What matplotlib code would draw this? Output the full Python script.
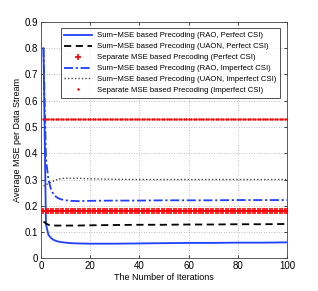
import numpy as np
import matplotlib
matplotlib.use("Agg")
import matplotlib.pyplot as plt

plt.rcParams['font.family'] = ['Liberation Sans', 'DejaVu Sans']

it_curve = [1, 2, 3, 4, 5, 6, 7, 8, 10, 12, 15, 20, 30, 40, 50, 60, 70, 80, 90, 100]

# Sum-MSE, RAO, perfect CSI
rao_perfect = [0.80, 0.13, 0.090, 0.078, 0.071, 0.067, 0.064, 0.062, 0.060, 0.058, 0.057,
               0.056, 0.056, 0.057, 0.058, 0.059, 0.059, 0.060, 0.060, 0.061]
# Sum-MSE, UAON, perfect CSI
uaon_perfect = [0.140, 0.133, 0.128, 0.125, 0.125, 0.125, 0.125, 0.125, 0.125, 0.125, 0.125,
                0.126, 0.127, 0.128, 0.128, 0.129, 0.129, 0.130, 0.130, 0.131]
# Sum-MSE, RAO, imperfect CSI
rao_imperfect = [0.80, 0.38, 0.30, 0.265, 0.245, 0.235, 0.229, 0.225, 0.221, 0.219, 0.218,
                 0.219, 0.220, 0.220, 0.221, 0.221, 0.221, 0.222, 0.222, 0.222]
# Sum-MSE, UAON, imperfect CSI
uaon_imperfect = [0.275, 0.280, 0.285, 0.290, 0.294, 0.298, 0.301, 0.303, 0.305, 0.305, 0.305,
                  0.303, 0.301, 0.300, 0.300, 0.300, 0.300, 0.300, 0.300, 0.300]

# separate MSE based precoding (flat over all iterations)
it_all = np.arange(1, 101)
sep_perfect = [0.179] * 100
sep_imperfect = [0.53] * 100

labels = ['Sum\u2212MSE based Precoding (RAO, Perfect CSI)',
          'Sum\u2212MSE based Precoding (UAON, Perfect CSI)',
          'Separate MSE based Precoding (Perfect CSI)',
          'Sum\u2212MSE based Precoding (RAO, Imperfect CSI)',
          'Sum\u2212MSE based Precoding (UAON, Imperfect CSI)',
          'Separate MSE based Precoding (Imperfect CSI)']

fig = plt.figure(figsize=(3.18, 2.91), dpi=100)
ax = fig.add_axes([0.129, 0.112, 0.774, 0.813])

ax.plot(it_curve, rao_perfect, color='#1f3fff', lw=1.3, label=labels[0])
ax.plot(it_curve, uaon_perfect, color='black', lw=1.3, ls=(0, (4, 2.5)), label=labels[1])
ax.plot(it_all, sep_perfect, ls='none', marker='+', ms=4, mew=1.2, color='red', label=labels[2])
ax.plot(it_curve, rao_imperfect, color='#1f3fff', lw=1.3, ls=(0, (5, 1.5, 1.2, 1.5)), label=labels[3])
ax.plot(it_curve, uaon_imperfect, color='#444444', lw=1.0, ls=(0, (1, 1.5)), label=labels[4])
ax.plot(it_all, sep_imperfect, ls='none', marker='.', ms=1.6, color='red', label=labels[5])

ax.set_xlim(0, 100)
ax.set_ylim(0, 0.9)
ax.set_xticks([0, 20, 40, 60, 80, 100])
ax.set_yticks(np.arange(0, 0.91, 0.1))
ax.set_yticklabels(['0', '0.1', '0.2', '0.3', '0.4', '0.5', '0.6', '0.7', '0.8', '0.9'])
ax.tick_params(direction='in', length=2.5, width=0.5, labelsize=7, top=True, right=True, pad=2)
ax.grid(True, ls=(0, (1, 2)), color='#aaaaaa', lw=0.6)
for s in ax.spines.values():
    s.set_linewidth(0.6)
    s.set_color('#444444')

ax.set_xlabel('The Number of Iterations', fontsize=6.5, labelpad=1)
ax.set_ylabel('Average MSE per Data Stream', fontsize=6.5, labelpad=2)

leg = ax.legend(loc='upper right', fontsize=5.6, frameon=True, fancybox=False,
                edgecolor='black', handlelength=3.6, handletextpad=0.7,
                borderpad=0.45, labelspacing=0.45, borderaxespad=0.4,
                bbox_to_anchor=(0.985, 0.985))
leg.get_frame().set_linewidth(0.6)

fig.savefig('out.png', dpi=100)
